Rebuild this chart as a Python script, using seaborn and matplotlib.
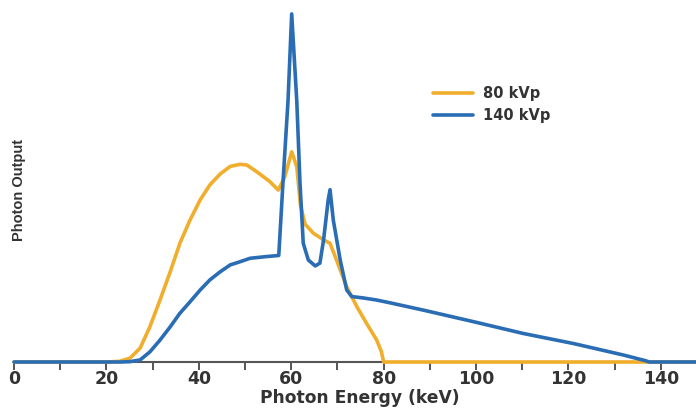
import seaborn as sns
from matplotlib import pyplot as plt
import numpy as np
import pandas as pd

# photon energy (keV) and relative output
energy_80 = [0, 20, 22.9, 25.1, 27.3, 29.4, 31.6, 33.8, 35.9, 38.1, 40.3, 42.4, 44.6,
             46.8, 48.9, 50.4, 52.5, 55.4, 57.2, 58.6, 60.1, 61.2, 62.0, 63.0, 64.8,
             67.0, 68.4, 69.8, 72.0, 74.2, 76.3, 78.5, 79.5, 80, 148]
output_80 = [0, 0, 0.2, 1.1, 4.0, 10.1, 17.8, 25.9, 34.1, 40.8, 46.6, 50.9, 54.0,
             56.2, 56.8, 56.6, 54.7, 51.8, 49.4, 53.2, 60.4, 56.1, 45.0, 39.6, 37.0,
             35.1, 34.1, 29.3, 21.6, 15.9, 11.1, 6.3, 3.0, 0, 0]

energy_140 = [0, 23, 25.1, 27.3, 29.4, 31.6, 33.8, 35.9, 38.1, 40.3, 42.4, 44.6, 46.8,
              48.9, 51.1, 54.7, 57.3, 58.2, 59.3, 60.1, 61.2, 61.9, 62.6, 63.7, 65.2,
              66.2, 67.0, 68.0, 68.4, 69.1, 70.6, 72.0, 73.1, 75.6, 78.5, 81.4, 88.6,
              99.4, 110.2, 121.1, 131.9, 136.6, 137.5, 148]
output_140 = [0, 0, 0.1, 0.6, 2.9, 6.3, 10.1, 14.0, 17.3, 20.7, 23.6, 25.9, 27.9,
              28.8, 29.8, 30.3, 30.6, 51.3, 75, 100, 75, 51.3, 34.1, 29.3, 27.6,
              28.4, 35.1, 46.6, 49.5, 40.8, 29.3, 20.7, 18.8, 18.4, 17.8, 17.0, 14.9,
              11.6, 8.2, 5.3, 2.0, 0.4, 0, 0]

labels = ['80 kVp', '140 kVp']
colors = ['#F0AE2C', '#2A6DB4']

df = pd.concat([
    pd.DataFrame({'energy': energy_80, 'output': output_80, 'tube': labels[0]}),
    pd.DataFrame({'energy': energy_140, 'output': output_140, 'tube': labels[1]}),
])

sns.set_style('white')
plt.rcParams['font.family'] = ['DejaVu Sans']

fig = plt.figure(figsize=(6.96, 4.08), dpi=100)
ax = fig.add_axes([14 / 696, 46 / 408, 682 / 696, 355 / 408])

sns.lineplot(data=df, x='energy', y='output', hue='tube', palette=colors,
             linewidth=2.6, sort=False, ax=ax, legend=True)
for line in ax.lines:
    line.set_clip_on(False)
    line.set_zorder(3)
    line.set_solid_joinstyle('round')

ax.set_xlim(0, 147.6)
ax.set_ylim(0, 102)

for side in ['top', 'right', 'left']:
    ax.spines[side].set_visible(False)
ax.spines['bottom'].set_color('#555555')
ax.spines['bottom'].set_linewidth(1.5)
ax.spines['bottom'].set_zorder(1)

ax.set_xticks(np.arange(0, 141, 20))
ax.set_xticks(np.arange(10, 141, 20), minor=True)
ax.set_yticks([])
ax.tick_params(axis='x', which='both', direction='out', length=6, width=1.4,
               color='#555555', pad=0, bottom=True)
for lbl in ax.get_xticklabels():
    lbl.set_fontweight('bold')
    lbl.set_fontsize(12.5)
    lbl.set_color('#333333')

ax.set_xlabel('Photon Energy (keV)', fontsize=12.3, fontweight='bold', color='#333333')
ax.xaxis.set_label_coords(0.507, -0.076)
ax.set_ylabel('Photon Output', fontsize=10.5, fontweight='bold', color='#333333',
              family='Liberation Sans')
ax.yaxis.set_label_coords(0.018, 0.485)

ax.legend(loc='upper left', bbox_to_anchor=(433 / 696, 1 - 86 / 408),
          bbox_transform=fig.transFigure, frameon=False, borderpad=0,
          borderaxespad=0, handlelength=2.75, handletextpad=0.68, labelspacing=0.46,
          prop={'weight': 'bold', 'size': 10.5})
leg = ax.get_legend()
leg.set_title(None)
for t in leg.get_texts():
    t.set_color('#333333')

fig.savefig('out.png')
